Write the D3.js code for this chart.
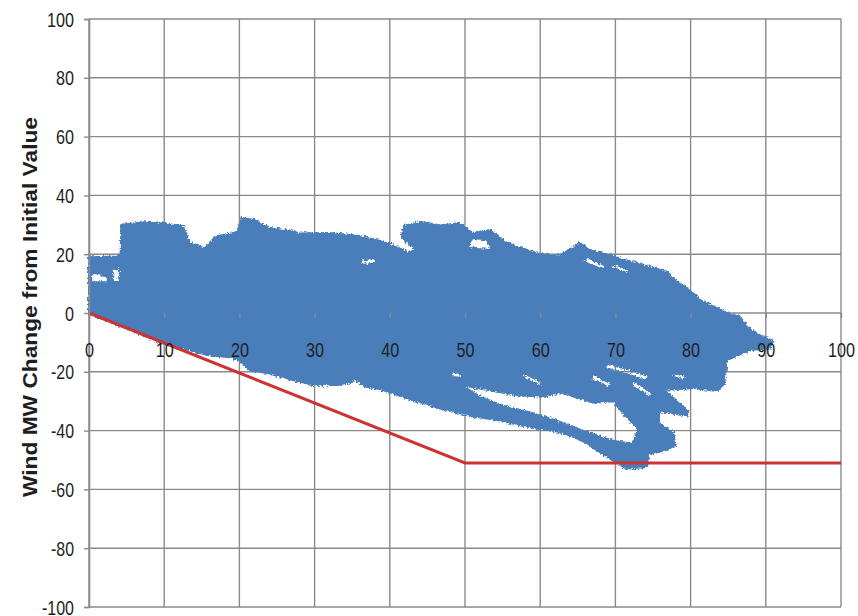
<!DOCTYPE html>
<html>
<head>
<meta charset="utf-8">
<script src="https://cdn.jsdelivr.net/npm/d3@7"></script>
<style>
  html, body { margin: 0; padding: 0; background: #fff; }
  svg { display: block; }
  .tick text { font-family: "Liberation Sans", Arial, sans-serif; font-size: 21px; fill: #1e1e1e; }
</style>
</head>
<body>
<svg id="chart" width="858" height="616"></svg>
<script>
// ---- data ----
const xTicks = [0, 10, 20, 30, 40, 50, 60, 70, 80, 90, 100];
const yTicks = [-100, -80, -60, -40, -20, 0, 20, 40, 60, 80, 100];
const yTitle = "Wind MW Change from Initial Value";

// red limit line (x, MW change)
const limitLine = [[0, 0], [50, -51], [100, -51]];

// outline of the dense blue scatter cloud (x, MW change)
const cloudOutline = [
  [0,-0.5],[0,6],[0,19],[4.2,19.2],[4.3,30],[8,31],[12.5,29.6],[13.4,23.8],[15.4,22],[16.8,26],
  [19.7,27.5],[20.3,32.3],[22,31.6],[24,29],[26.7,28],[28,27],[32,27.2],[36,26.2],[38.7,24.5],
  [40.5,23],[42.5,20.5],[43.5,21.5],[41.6,25.5],[41.8,29.6],[44,31],[46.7,29.8],[49.3,30.6],
  [51,27.2],[53.3,28.2],[55.6,23.8],[57.5,22],[60,20],[62.6,19.6],[65.3,23.8],[66.5,21.5],
  [68.9,19.8],[73.3,16.5],[76.9,14],[77.7,11.8],[80.3,6.8],[81.3,4.4],[84.8,0],[86.6,-1.4],
  [87.5,-4.8],[89.2,-7.5],[91,-9.5],[90.5,-12],[88,-12.6],[84.8,-16],[84.5,-24],[83.5,-26.5],
  [80.5,-25.5],[76.5,-26.2],[79.7,-33.3],[79.5,-35],[77.5,-34],[75.8,-33.5],[75.8,-37.5],
  [77.7,-40.8],[78,-44.8],[76.9,-46.6],[74.5,-48],[74.2,-52.4],[71.5,-53],[69.3,-49.5],
  [65.3,-43],[62.6,-40.5],[60,-39.5],[57,-38],[54.3,-36.4],[50.7,-35],[46.7,-32.5],[43,-29.5],
  [38.5,-25.8],[36.6,-25],[34.3,-20.4],[35.2,-23.3],[33,-24.5],[29.8,-24.5],[27.1,-22.8],
  [23.7,-20.4],[21.4,-19.4],[20,-16],[18.4,-15],[15.7,-14.3],[13.4,-12.6],[9.8,-10.2],
  [6,-6.2],[3,-3.2],[0.5,-0.8]
];

// white gaps inside the cloud (x, MW change)
const cloudHoles = [
  [[0.3,10.5],[2.5,10.5],[2.5,12],[1.5,13.5],[0.3,13.5]],
  [[3,15],[4.1,15.3],[4.1,10.5],[3.2,11]],
  [[36,16.3],[38.3,16.8],[38,18.7],[36.3,18.2]],
  [[50.3,22],[53.5,21.4],[53,25],[51,25.5]],
  [[65.5,18],[68,15],[69,15.5],[66.5,18.7]],
  [[69,16],[71.5,13.6],[72,14.5],[70,16.5]],
  [[49.5,-24.5],[53.3,-26.3],[57,-28],[60.5,-28.5],[62.6,-27],[65.3,-29],[67,-30.5],[69.7,-30],
   [71.5,-35.4],[73,-39.5],[72.3,-44.5],[69.7,-43.5],[66.2,-40.5],[62.6,-37],[59,-34],[55,-31.5],[52,-28.5]],
  [[48,-20],[49.7,-20.5],[49.5,-22],[48.2,-21.8]],
  [[57.7,-20.4],[60.4,-23.5],[60,-25],[57.5,-21.5]],
  [[68.9,-17],[74.6,-21.5],[74,-22.8],[68.5,-18.5]],
  [[72.3,-23],[75,-27.5],[74.5,-28.5],[72,-24.5]],
  [[77.7,-20.4],[79.5,-21.5],[79.3,-22.8],[77.5,-21.5]],
  [[67,-21],[69.5,-24],[69,-25.2],[66.8,-22.5]]
];

// ---- drawing ----
const svg = d3.select("#chart");
const x = d3.scaleLinear().domain([0, 100]).range([89, 841]);
const y = d3.scaleLinear().domain([-100, 100]).range([607, 19]);
const gridColor = "#8a8a8a";
const fmt = d => String(d);
const labelWidth = d => String(d).replace("-", "").length * 9 + (d < 0 ? 5 : 0);

// rough-edge filter to mimic the dense marker cloud
const defs = svg.append("defs");
const f = defs.append("filter").attr("id", "rough")
  .attr("x", "-5%").attr("y", "-10%").attr("width", "110%").attr("height", "120%");
f.append("feTurbulence").attr("type", "fractalNoise").attr("baseFrequency", 0.45)
  .attr("numOctaves", 2).attr("seed", 3).attr("result", "noise");
f.append("feDisplacementMap").attr("in", "SourceGraphic").attr("in2", "noise")
  .attr("scale", 5).attr("xChannelSelector", "R").attr("yChannelSelector", "G");

// grid
svg.append("g").selectAll("line").data(xTicks).join("line")
  .attr("x1", d => x(d)).attr("x2", d => x(d))
  .attr("y1", y(100)).attr("y2", y(-100))
  .attr("stroke", gridColor).attr("stroke-width", 1.4);
svg.append("g").selectAll("line").data(yTicks).join("line")
  .attr("x1", x(0)).attr("x2", x(100))
  .attr("y1", d => y(d)).attr("y2", d => y(d))
  .attr("stroke", gridColor).attr("stroke-width", 1.4);

// cloud
const ring = d3.line().x(d => x(d[0])).y(d => y(d[1]));
const cloudPath = [cloudOutline, ...cloudHoles].map(r => ring(r) + "Z").join("");
svg.append("path")
  .attr("d", cloudPath)
  .attr("fill", "#4a7ebb")
  .attr("fill-rule", "evenodd")
  .attr("stroke", "#4a7ebb")
  .attr("stroke-width", 2)
  .attr("stroke-linejoin", "round")
  .attr("filter", "url(#rough)");

// red line
svg.append("path")
  .datum(limitLine)
  .attr("d", d3.line().x(d => x(d[0])).y(d => y(d[1])))
  .attr("fill", "none")
  .attr("stroke", "#cc3333")
  .attr("stroke-width", 3);

// y axis
const yAxis = svg.append("g")
  .attr("transform", `translate(${x(0)},0)`)
  .call(d3.axisLeft(y).tickValues(yTicks).tickSize(5).tickPadding(10).tickFormat(fmt));
yAxis.select(".domain").attr("stroke", gridColor).attr("stroke-width", 1.6);
yAxis.selectAll(".tick line").attr("stroke", gridColor).attr("stroke-width", 1.4);
yAxis.selectAll(".tick text")
  .attr("dy", "0.34em")
  .attr("textLength", d => labelWidth(d))
  .attr("lengthAdjust", "spacingAndGlyphs");

// x axis (crosses at 0)
const xAxis = svg.append("g")
  .attr("transform", `translate(0,${y(0)})`)
  .call(d3.axisBottom(x).tickValues(xTicks).tickSize(5).tickFormat(fmt));
xAxis.select(".domain").remove();
xAxis.selectAll(".tick line").attr("stroke", gridColor).attr("stroke-width", 1.4);
xAxis.selectAll(".tick text").attr("y", 29).attr("dy", "0.71em")
  .attr("textLength", d => labelWidth(d))
  .attr("lengthAdjust", "spacingAndGlyphs");

// y title
svg.append("text")
  .attr("transform", `translate(37,307) rotate(-90)`)
  .attr("text-anchor", "middle")
  .attr("textLength", 380)
  .attr("lengthAdjust", "spacingAndGlyphs")
  .style("font-family", "'Liberation Sans', Arial, sans-serif")
  .style("font-weight", "bold")
  .style("font-size", "21px")
  .style("fill", "#1e1e1e")
  .text(yTitle);
</script>
</body>
</html>
